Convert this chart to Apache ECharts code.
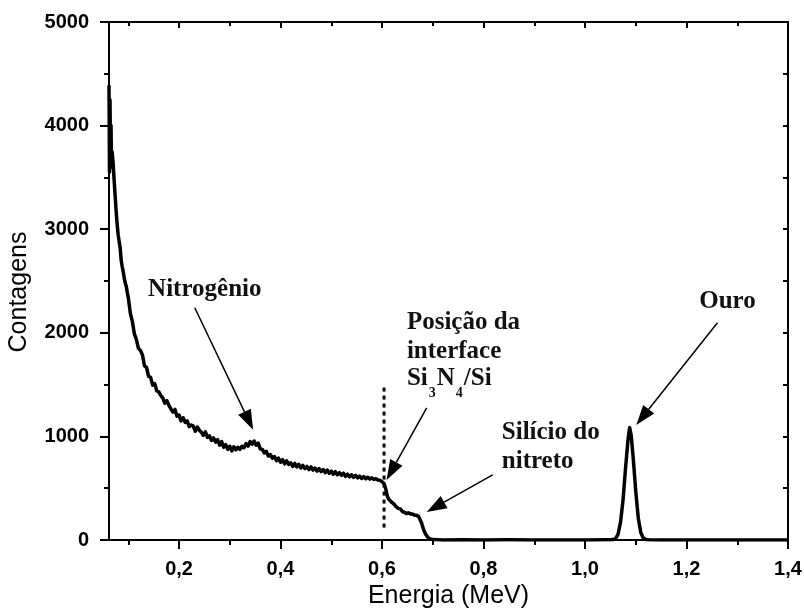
<!DOCTYPE html>
<html><head><meta charset="utf-8">
<script src="https://cdn.jsdelivr.net/npm/echarts@6/dist/echarts.min.js"></script>
<style>html,body{margin:0;padding:0;background:#fff}#c{width:804px;height:610px}</style>
</head><body><div id="c"></div>
<script>
// ---- data: [energy (MeV), counts] ----
const lowEnergyTail = [
[0.062,4390],[0.063,3550],[0.064,4250],[0.065,3700],[0.066,4000],[0.067,3600],[0.068,3750],
[0.070,3650],[0.072,3480],[0.074,3330],[0.076,3180],[0.078,3050],[0.080,2950],[0.082,2880],
[0.084,2820],[0.086,2700],[0.088,2640],[0.090,2590],[0.092,2530],[0.094,2480],[0.096,2450],[0.098,2390]
];
const nitrogenRegion = [
[0.100,2340],[0.104,2190],[0.108,2110],[0.112,1990],[0.116,1935],[0.120,1850],[0.124,1830],[0.128,1785],
[0.132,1680],[0.136,1665],[0.140,1580],[0.144,1570],[0.148,1495],[0.152,1510],[0.156,1440],[0.160,1430],
[0.164,1395],[0.168,1370],[0.172,1320],[0.176,1345],[0.180,1300],[0.184,1265],[0.188,1235],[0.192,1260],
[0.196,1195],[0.200,1205],[0.204,1150],[0.208,1180],[0.212,1135],[0.216,1150],[0.220,1095],[0.224,1110],
[0.228,1100],[0.232,1050],[0.236,1090],[0.240,1060],[0.244,1040],[0.248,1010],[0.252,1045],[0.256,990],
[0.260,1005],[0.264,960],[0.268,985],[0.272,945],[0.276,970],[0.280,915],[0.284,950],[0.288,895],
[0.292,920],[0.296,875],[0.300,905],[0.304,860],[0.308,900],[0.312,870],[0.316,895],[0.320,875],
[0.324,905],[0.328,890],[0.332,930],[0.336,905],[0.340,950],[0.344,925],[0.348,955],[0.352,915],
[0.356,935],[0.360,880],[0.364,875],[0.368,840],[0.372,855],[0.376,810],[0.380,825],[0.384,790],
[0.388,805],[0.392,765],[0.396,790]
];
const nitridePlateau = [
[0.400,750],[0.404,775],[0.408,735],[0.412,765],[0.416,730],[0.420,745],[0.424,710],[0.428,740],
[0.432,705],[0.436,730],[0.440,695],[0.444,720],[0.448,690],[0.452,710],[0.456,680],[0.460,705],
[0.464,675],[0.468,695],[0.472,665],[0.476,690],[0.480,660],[0.484,680],[0.488,650],[0.492,675],
[0.496,645],[0.500,665],[0.504,635],[0.508,660],[0.512,630],[0.516,650],[0.520,625],[0.524,645],
[0.528,615],[0.532,635],[0.536,610],[0.540,630],[0.544,605],[0.548,624],[0.552,600],[0.556,616],
[0.560,594],[0.564,612],[0.568,591],[0.572,606],[0.576,588],[0.580,601],[0.584,584],[0.588,592],
[0.592,578],[0.596,576],[0.600,562]
];
const siliconEdge = [
[0.604,545],[0.607,500],[0.610,430],[0.613,395],[0.616,380],[0.620,360],[0.624,345],[0.628,320],
[0.632,305],[0.636,300],[0.640,275],[0.644,268],[0.648,255],[0.652,262],[0.656,250],[0.660,252],
[0.664,240],[0.668,238],[0.672,228],[0.675,215],[0.678,165],[0.682,98],[0.686,55],[0.690,28],
[0.694,12],[0.700,4],[0.710,2],[0.720,0],[0.760,3],[0.800,0],[0.850,2],[0.900,0],[0.950,1],
[1.000,0],[1.040,2],[1.050,2]
];
const goldPeak = [
[1.055,4],[1.060,12],[1.065,55],[1.070,170],[1.075,390],[1.080,700],[1.085,980],[1.088,1085],
[1.091,1010],[1.095,790],[1.100,470],[1.105,210],[1.110,70],[1.115,18],[1.120,5],[1.125,2],
[1.150,0],[1.200,1],[1.300,0],[1.400,0]
];
const interfaceLine = [[0.604,120],[0.604,1480]];

const xMajorTicks = [0.2,0.4,0.6,0.8,1.0,1.2,1.4];
const xMinorTicks = [0.1,0.3,0.5,0.7,0.9,1.1,1.3];
const xRange = [0.062, 1.4];
const yRange = [0, 5000];
const xTitle = 'Energia (MeV)';
const yTitle = 'Contagens';

// annotations (data coordinates)
const labelTexts = ['Nitrogênio','Posição da','interface','{n|Si}{s|3}{n|N}{s|4}{n|/Si}','Silício do','nitreto','Ouro'];
const labelPos = [[0.139,2415],[0.649,2097],[0.649,1816],[0.649,1546],[0.836,1034],[0.836,754],[1.225,2300]];
const arrowFrom = [[0.231,2242],[0.688,1275],[0.818,628],[1.261,2097]];
const arrowTo   = [[0.346,1063],[0.609,580],[0.688,271],[1.101,1111]];

const spectrum = [].concat(lowEnergyTail, nitrogenRegion, nitridePlateau, siliconEdge, goldPeak);

const chart = echarts.init(document.getElementById('c'), null, {renderer:'canvas'});
const sans = 'Liberation Sans, Arial, sans-serif';
const serif = 'Liberation Serif, Times New Roman, serif';
const fmt = v => Number(v).toFixed(1).replace('.', ',');
const blackLine = {show:true, lineStyle:{color:'#000', width:2}};

chart.setOption({
  animation:false,
  backgroundColor:'#fff',
  grid:{left:109, right:16, top:22, bottom:70, containLabel:false, outerBoundsMode:'none'},
  xAxis:[
    {type:'value', position:'bottom', min:xRange[0], max:xRange[1],
     axisLine:blackLine, splitLine:{show:false},
     axisTick:{show:true, inside:false, length:9, customValues:xMajorTicks, lineStyle:{color:'#000', width:2}},
     axisLabel:{show:true, customValues:xMajorTicks, formatter:fmt, margin:19, color:'#000',
       fontFamily:sans, fontWeight:'bold', fontSize:20},
     name:xTitle, nameLocation:'middle', nameGap:36,
     nameTextStyle:{color:'#000', fontFamily:sans, fontSize:25}},
    {type:'value', position:'bottom', min:xRange[0], max:xRange[1],
     axisLine:{show:false}, splitLine:{show:false}, axisLabel:{show:false},
     axisTick:{show:true, inside:false, length:5, customValues:xMinorTicks, lineStyle:{color:'#000', width:2}}},
    {type:'value', position:'top', min:xRange[0], max:xRange[1],
     axisLine:blackLine, splitLine:{show:false}, axisLabel:{show:false},
     axisTick:{show:true, inside:true, length:6, customValues:xMajorTicks, lineStyle:{color:'#000', width:2}}},
    {type:'value', position:'top', min:xRange[0], max:xRange[1],
     axisLine:{show:false}, splitLine:{show:false}, axisLabel:{show:false},
     axisTick:{show:true, inside:true, length:4, customValues:xMinorTicks, lineStyle:{color:'#000', width:2}}}
  ],
  yAxis:[
    {type:'value', position:'left', min:yRange[0], max:yRange[1], interval:1000,
     axisLine:blackLine, splitLine:{show:false},
     axisTick:{show:true, inside:false, length:9, lineStyle:{color:'#000', width:2}},
     minorTick:{show:true, splitNumber:2, length:5, lineStyle:{color:'#000', width:2}},
     axisLabel:{margin:20, color:'#000', fontFamily:sans, fontWeight:'bold', fontSize:20, formatter: v => String(v)}},
    {type:'value', position:'right', min:yRange[0], max:yRange[1], interval:1000,
     axisLine:blackLine, splitLine:{show:false}, axisLabel:{show:false},
     axisTick:{show:true, inside:true, length:5, lineStyle:{color:'#000', width:2}},
     minorTick:{show:true, splitNumber:2, length:5, lineStyle:{color:'#000', width:2}}}
  ],
  series:[
    {type:'line', xAxisIndex:0, yAxisIndex:0, data:spectrum, showSymbol:false, symbol:'none',
     sampling:null, lineStyle:{color:'#000', width:3.5, join:'round'}, z:3},
    {type:'line', xAxisIndex:0, yAxisIndex:0, data:interfaceLine, showSymbol:false, symbol:'none',
     lineStyle:{color:'#000', width:3, type:[4,4]}, z:2}
  ]
});

function px(p){ return chart.convertToPixel({xAxisIndex:0, yAxisIndex:0}, p); }
const graphics = [];
// y axis title, slightly below the vertical centre as in the reference
graphics.push({type:'text', x:19, y:292, rotation:Math.PI/2, z:10, silent:true,
  style:{text:yTitle, fill:'#000', font:'25px '+sans, align:'center', verticalAlign:'middle'}});
labelTexts.forEach((t,i)=>{
  const p = px(labelPos[i]);
  const rich = t.indexOf('{') === 0;
  graphics.push({type:'text', x:p[0], y: rich ? p[1]-14 : p[1], z:10, silent:true,
    style: rich ? {
      text:t, fill:'#111', font:'bold 25px '+serif, align:'left', verticalAlign:'top',
      rich:{ n:{fontFamily:serif, fontWeight:'bold', fontSize:25, lineHeight:28, verticalAlign:'top', fill:'#111'},
             s:{fontFamily:serif, fontWeight:'bold', fontSize:14, lineHeight:14, verticalAlign:'top', padding:[21,1,0,1], fill:'#111'} }
    } : {text:t, fill:'#111', font:'bold 25px '+serif, align:'left', verticalAlign:'middle'}
  });
});
arrowFrom.forEach((f,i)=>{
  const a = px(f), b = px(arrowTo[i]);
  const dx=b[0]-a[0], dy=b[1]-a[1], L=Math.hypot(dx,dy), ux=dx/L, uy=dy/L;
  const hl=20, hw=7;
  const bx=b[0]-ux*hl, by=b[1]-uy*hl;
  graphics.push({type:'line', z:10, silent:true, shape:{x1:a[0], y1:a[1], x2:bx, y2:by}, style:{stroke:'#000', lineWidth:1.5}});
  graphics.push({type:'polygon', z:10, silent:true, shape:{points:[[b[0],b[1]],[bx-uy*hw,by+ux*hw],[bx+uy*hw,by-ux*hw]]}, style:{fill:'#000'}});
});
chart.setOption({graphic:graphics});
</script></body></html>
